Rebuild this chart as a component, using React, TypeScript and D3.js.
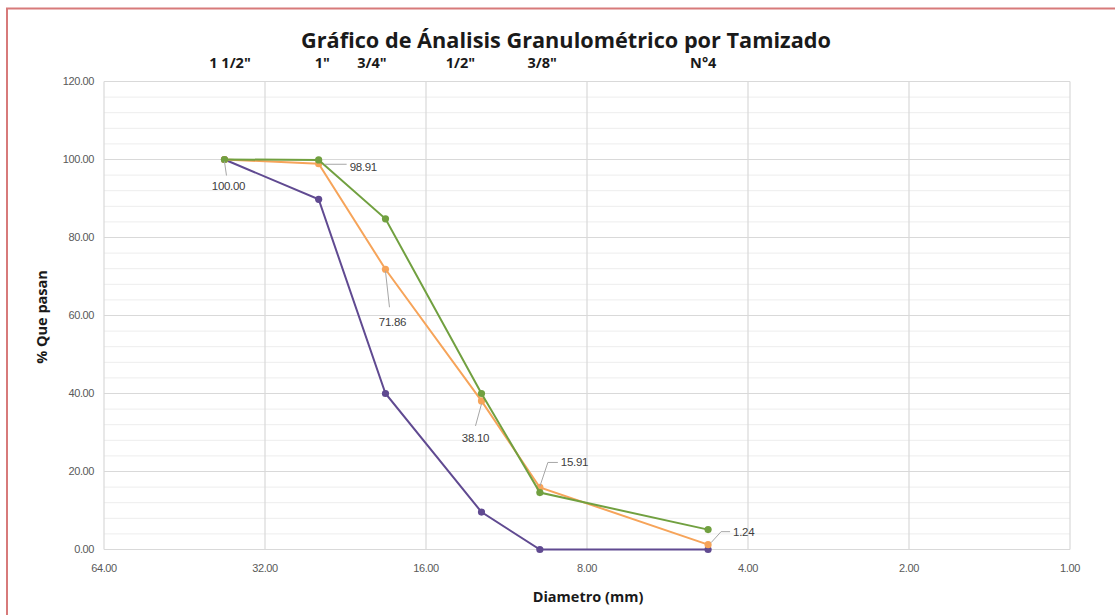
import React from "react";
import * as d3 from "d3";

const W = 1115;
const H = 615;

// Diameters (mm) for each sieve point
const diameters = [38.1, 25.4, 19.05, 12.6, 9.8, 4.75];
const seriesGreen = [100, 99.9, 84.8, 40.0, 14.6, 5.1];
const seriesOrange = [100, 98.91, 71.86, 38.1, 15.91, 1.24];
const seriesPurple = [100, 89.8, 40.0, 9.6, 0, 0];

const xTicks = [64, 32, 16, 8, 4, 2, 1];
const yMajor = [0, 20, 40, 60, 80, 100, 120];

const sieveLabels = ['1 1/2"', '1"', '3/4"', '1/2"', '3/8"', "N°4"];
const sieveLabelPos = [37.2, 25.0, 20.2, 13.8, 9.7, 4.85];

// data labels (orange series): index, label
const labelIdx = [0, 1, 2, 3, 4, 5];

const margin = { left: 104, right: 1070, top: 81.5, bottom: 549.5 };

export default function App() {
  const x = d3
    .scaleLog()
    .base(2)
    .domain([64, 1])
    .range([margin.left, margin.right]);
  const y = d3.scaleLinear().domain([0, 120]).range([margin.bottom, margin.top]);

  const yMinor = d3.range(0, 121, 4).filter((v) => v % 20 !== 0);

  const line = (vals: number[]) =>
    d3
      .line<number>()
      .x((_, i) => x(diameters[i]))
      .y((v) => y(v))(vals) || "";

  const series = [
    { vals: seriesPurple, color: "#604a91" },
    { vals: seriesOrange, color: "#f6a45a" },
    { vals: seriesGreen, color: "#71a040" },
  ];

  const tickFont = "'Liberation Sans', Arial, sans-serif";
  const boldFont = "'Open Sans', Lato, sans-serif";

  const lbl = labelIdx.map((i) => {
    const px = x(diameters[i]);
    const py = y(seriesOrange[i]);
    return { i, px, py, text: seriesOrange[i].toFixed(2) };
  });

  return (
    <svg
      width={W}
      height={H}
      style={{ position: "absolute", left: 0, top: 0, background: "#fff" }}
    >
      <rect
        x={7}
        y={8.5}
        width={W + 20}
        height={H + 20}
        fill="none"
        stroke="#d77a7a"
        strokeWidth={2}
      />
      {yMinor.map((v) => (
        <line
          key={"mn" + v}
          x1={margin.left}
          x2={margin.right}
          y1={y(v)}
          y2={y(v)}
          stroke="#ededed"
          strokeWidth={1}
        />
      ))}
      {yMajor.map((v) => (
        <line
          key={"mj" + v}
          x1={margin.left}
          x2={margin.right}
          y1={y(v)}
          y2={y(v)}
          stroke="#d9d9d9"
          strokeWidth={1.2}
        />
      ))}
      {xTicks.map((t) => (
        <line
          key={"vx" + t}
          x1={x(t)}
          x2={x(t)}
          y1={margin.top}
          y2={margin.bottom}
          stroke="#d9d9d9"
          strokeWidth={1.2}
        />
      ))}
      {yMajor.map((v) => (
        <text
          key={"yt" + v}
          x={94}
          y={y(v)}
          dy="0.35em"
          textAnchor="end"
          fontFamily={tickFont}
          fontSize={11}
          fill="#595959"
          letterSpacing={-0.4}
        >
          {v.toFixed(2)}
        </text>
      ))}
      {xTicks.map((t) => (
        <text
          key={"xt" + t}
          x={x(t)}
          y={568}
          dy="0.35em"
          textAnchor="middle"
          fontFamily={tickFont}
          fontSize={11}
          fill="#595959"
          letterSpacing={-0.4}
        >
          {t.toFixed(2)}
        </text>
      ))}
      {series.map((s, si) => (
        <g key={"s" + si}>
          <path d={line(s.vals)} fill="none" stroke={s.color} strokeWidth={2} />
          {s.vals.map((v, i) => (
            <circle key={i} cx={x(diameters[i])} cy={y(v)} r={3.6} fill={s.color} />
          ))}
        </g>
      ))}
      {lbl.map((l) => {
        let path = "";
        let tx = 0;
        let ty = 0;
        let anchor: "start" | "middle" = "middle";
        if (l.i === 0) {
          path = `M${l.px},${l.py + 2} L${l.px + 2},${l.py + 16}`;
          tx = l.px + 4;
          ty = l.py + 26;
        } else if (l.i === 1) {
          path = `M${l.px + 6},${l.py + 0.5} L${l.px + 28},${l.py + 0.5}`;
          tx = l.px + 31;
          ty = l.py + 3;
          anchor = "start";
        } else if (l.i === 2) {
          path = `M${l.px},${l.py + 2} L${l.px + 4},${l.py + 38}`;
          tx = l.px + 7;
          ty = l.py + 53;
        } else if (l.i === 3) {
          path = `M${l.px},${l.py + 3} L${l.px - 6},${l.py + 25}`;
          tx = l.px - 6;
          ty = l.py + 37;
        } else if (l.i === 4) {
          path = `M${l.px},${l.py - 1} L${l.px + 8},${l.py - 25} L${l.px + 18},${l.py - 25}`;
          tx = l.px + 21;
          ty = l.py - 25;
          anchor = "start";
        } else {
          path = `M${l.px + 3},${l.py - 2} L${l.px + 13},${l.py - 13} L${l.px + 22},${l.py - 13}`;
          tx = l.px + 25;
          ty = l.py - 13;
          anchor = "start";
        }
        return (
          <g key={"dl" + l.i}>
            <path d={path} fill="none" stroke="#a6a6a6" strokeWidth={1} />
            <text
              x={tx}
              y={ty}
              dy="0.35em"
              textAnchor={anchor}
              fontFamily={tickFont}
              fontSize={11.5}
              fill="#404040"
              letterSpacing={-0.3}
            >
              {l.text}
            </text>
          </g>
        );
      })}
      {sieveLabels.map((s, i) => (
        <text
          key={"sv" + i}
          x={x(sieveLabelPos[i])}
          y={68}
          textAnchor="middle"
          fontFamily={boldFont}
          fontWeight="bold"
          fontSize={14.5}
          fill="#1a1a1a"
        >
          {s}
        </text>
      ))}
      <text
        x={566}
        y={48}
        textAnchor="middle"
        fontFamily={boldFont}
        fontWeight="bold"
        fontSize={21.7}
        fill="#1a1a1a"
      >
        Gráfico de Ánalisis Granulométrico por Tamizado
      </text>
      <text
        transform={`translate(42,${317}) rotate(-90)`}
        textAnchor="middle"
        dy="0.35em"
        fontFamily={boldFont}
        fontWeight="bold"
        fontSize={14.5}
        fill="#1a1a1a"
      >
        % Que pasan
      </text>
      <text
        x={588}
        y={597}
        dy="0.35em"
        textAnchor="middle"
        fontFamily={boldFont}
        fontWeight="bold"
        fontSize={14.5}
        fill="#1a1a1a"
      >
        Diametro (mm)
      </text>
    </svg>
  );
}
